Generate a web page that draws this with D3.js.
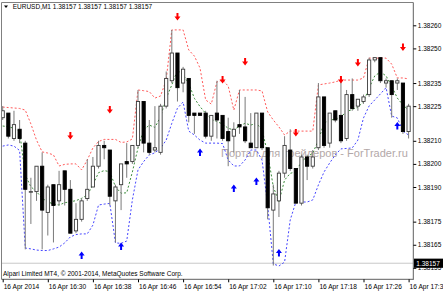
<!DOCTYPE html>
<html><head><meta charset="utf-8">
<script src="https://cdn.jsdelivr.net/npm/d3@7/dist/d3.min.js"></script>
<style>body{margin:0;background:#fff;}svg{display:block}</style>
</head><body>
<svg id="c" width="443" height="293"></svg>
<script>
const times = ["16:22","16:23","16:24","16:25","16:26","16:27","16:28","16:29","16:30","16:31","16:32","16:33","16:34","16:35","16:36","16:37","16:38","16:39","16:40","16:41","16:42","16:43","16:44","16:45","16:46","16:47","16:48","16:49","16:50","16:51","16:52","16:53","16:54","16:55","16:56","16:57","16:58","16:59","17:00","17:01","17:02","17:03","17:04","17:05","17:06","17:07","17:08","17:09","17:10","17:11","17:12","17:13","17:14","17:15","17:16","17:17","17:18","17:19","17:20","17:21","17:22","17:23","17:24","17:25","17:26","17:27","17:28","17:29","17:30","17:31","17:32","17:33","17:34"];
const opens = [1.38220,1.38222,1.38211,1.38215,1.38209,1.38188,1.38188,1.38199,1.38179,1.38191,1.38184,1.38197,1.38189,1.38171,1.38176,1.38185,1.38190,1.38199,1.38208,1.38206,1.38184,1.38191,1.38201,1.38201,1.38208,1.38227,1.38209,1.38206,1.38205,1.38225,1.38236,1.38248,1.38235,1.38237,1.38222,1.38222,1.38222,1.38212,1.38222,1.38221,1.38214,1.38212,1.38217,1.38216,1.38209,1.38207,1.38222,1.38207,1.38180,1.38184,1.38196,1.38206,1.38198,1.38183,1.38203,1.38199,1.38207,1.38229,1.38209,1.38223,1.38221,1.38211,1.38230,1.38225,1.38227,1.38230,1.38245,1.38246,1.38235,1.38236,1.38235,1.38235,1.38214];
const highs = [1.38225,1.38222,1.38223,1.38219,1.38210,1.38194,1.38199,1.38205,1.38191,1.38191,1.38197,1.38197,1.38193,1.38183,1.38185,1.38202,1.38203,1.38210,1.38210,1.38206,1.38191,1.38200,1.38209,1.38208,1.38232,1.38227,1.38219,1.38225,1.38226,1.38240,1.38258,1.38248,1.38242,1.38237,1.38222,1.38222,1.38223,1.38221,1.38236,1.38221,1.38220,1.38218,1.38232,1.38229,1.38222,1.38222,1.38222,1.38207,1.38191,1.38197,1.38212,1.38215,1.38198,1.38204,1.38204,1.38206,1.38235,1.38229,1.38222,1.38223,1.38236,1.38232,1.38237,1.38228,1.38230,1.38246,1.38246,1.38246,1.38237,1.38236,1.38237,1.38235,1.38226];
const lows = [1.38219,1.38211,1.38210,1.38209,1.38163,1.38174,1.38184,1.38163,1.38169,1.38166,1.38182,1.38182,1.38170,1.38170,1.38175,1.38184,1.38190,1.38198,1.38202,1.38182,1.38166,1.38180,1.38194,1.38200,1.38207,1.38205,1.38204,1.38205,1.38204,1.38224,1.38235,1.38227,1.38231,1.38218,1.38213,1.38221,1.38211,1.38210,1.38211,1.38210,1.38199,1.38205,1.38213,1.38209,1.38207,1.38207,1.38206,1.38176,1.38156,1.38177,1.38194,1.38197,1.38183,1.38182,1.38193,1.38198,1.38206,1.38207,1.38207,1.38218,1.38209,1.38210,1.38223,1.38223,1.38226,1.38229,1.38244,1.38235,1.38233,1.38220,1.38232,1.38213,1.38211];
const closes = [1.38223,1.38212,1.38217,1.38211,1.38189,1.38188,1.38199,1.38180,1.38190,1.38182,1.38191,1.38189,1.38170,1.38176,1.38184,1.38189,1.38199,1.38208,1.38207,1.38186,1.38190,1.38200,1.38200,1.38208,1.38227,1.38209,1.38205,1.38207,1.38225,1.38237,1.38248,1.38233,1.38241,1.38221,1.38221,1.38221,1.38212,1.38221,1.38219,1.38211,1.38210,1.38215,1.38216,1.38210,1.38207,1.38222,1.38207,1.38181,1.38187,1.38196,1.38208,1.38198,1.38183,1.38203,1.38199,1.38203,1.38229,1.38208,1.38222,1.38219,1.38210,1.38230,1.38224,1.38228,1.38229,1.38245,1.38246,1.38236,1.38236,1.38230,1.38236,1.38214,1.38225];
const upperBand = [1.382246,1.382244,1.382242,1.382240,1.382233,1.382173,1.382103,1.382052,1.382047,1.382039,1.381991,1.381998,1.382000,1.382000,1.381974,1.382017,1.382069,1.382097,1.382106,1.382106,1.382106,1.382093,1.382095,1.382108,1.382320,1.382317,1.382313,1.382285,1.382294,1.382363,1.382580,1.382580,1.382580,1.382493,1.382467,1.382415,1.382277,1.382259,1.382355,1.382363,1.382337,1.382233,1.382320,1.382320,1.382320,1.382320,1.382316,1.382225,1.382190,1.382160,1.382125,1.382142,1.382142,1.382142,1.382142,1.382142,1.382342,1.382346,1.382350,1.382355,1.382363,1.382363,1.382363,1.382363,1.382372,1.382458,1.382458,1.382458,1.382458,1.382432,1.382372,1.382372,1.382368];
const middleLine = [1.382164,1.382161,1.382154,1.382139,1.381952,1.381901,1.381880,1.381851,1.381836,1.381826,1.381822,1.381832,1.381836,1.381841,1.381851,1.381865,1.381909,1.381962,1.381971,1.381966,1.381901,1.381873,1.381875,1.381965,1.382069,1.382147,1.382168,1.382158,1.382204,1.382284,1.382342,1.382406,1.382385,1.382349,1.382284,1.382248,1.382219,1.382193,1.382183,1.382173,1.382154,1.382147,1.382164,1.382176,1.382168,1.382176,1.382147,1.382046,1.381901,1.381836,1.381930,1.381959,1.381966,1.382010,1.382031,1.382046,1.382103,1.382176,1.382190,1.382193,1.382204,1.382226,1.382236,1.382245,1.382269,1.382329,1.382381,1.382398,1.382381,1.382337,1.382285,1.382255,1.382233];
const lowerBand = [1.382077,1.382082,1.382077,1.382058,1.381636,1.381632,1.381627,1.381625,1.381625,1.381632,1.381640,1.381658,1.381684,1.381694,1.381697,1.381697,1.381735,1.381822,1.381826,1.381829,1.381658,1.381656,1.381666,1.381844,1.381974,1.382010,1.382039,1.382048,1.382068,1.382103,1.382176,1.382241,1.382268,1.382142,1.382125,1.382103,1.382090,1.382090,1.382090,1.382088,1.382017,1.381991,1.381991,1.382017,1.382060,1.382060,1.382017,1.381822,1.381567,1.381558,1.381575,1.381757,1.381835,1.381835,1.381835,1.381844,1.381909,1.381965,1.382004,1.382039,1.382065,1.382067,1.382069,1.382103,1.382199,1.382251,1.382277,1.382303,1.382330,1.382207,1.382199,1.382142,1.382125];
const sellArrowTimes = ["16:34","16:41","16:53","17:01","17:05","17:14","17:22","17:25","17:33"];
const sellArrowPrices = [1.382121,1.382233,1.382636,1.382363,1.382441,1.382134,1.382363,1.382437,1.382504];
const buyArrowTimes = ["16:36","16:43","16:57","17:03","17:07","17:11","17:32"];
const buyArrowPrices = [1.381606,1.381645,1.382052,1.381896,1.381926,1.381616,1.382166];
const priceTicks = [1.38260,1.38250,1.38235,1.38225,1.38210,1.38200,1.38190,1.38175,1.38165,1.38155];
const timeTicks = ["16:22","16:30","16:38","16:46","16:54","17:02","17:10","17:18","17:26","17:34"];
const timeTickLabels = ["16 Apr 2014","16 Apr 16:30","16 Apr 16:38","16 Apr 16:46","16 Apr 16:54","16 Apr 17:02","16 Apr 17:10","16 Apr 17:18","16 Apr 17:26","16 Apr 17:34"];
const bidPrice = 1.38157;
const title = "EURUSD,M1  1.38157 1.38157 1.38157 1.38157";
const copyright = "Alpari Limited MT4, \u00a9 2001-2014, MetaQuotes Software Corp.";
const watermark = "Портал для трейдеров - ForTrader.ru";

const FONT = "'Liberation Sans', Arial, sans-serif";
const svg = d3.select("#c");
const L = 1.5, R = 413.3, T = 2.5, B = 279.3;
const x = d3.scalePoint().domain(times).range([2.7, 408.6]);
const y = d3.scaleLinear().domain([1.38155, 1.38260]).range([267.85, 25.3]);

svg.append("defs").append("clipPath").attr("id","clip")
  .append("rect").attr("x",L).attr("y",T).attr("width",R-L).attr("height",B-T);

// watermark
svg.append("text").attr("x",221).attr("y",156.5).attr("fill","#b3a8a8")
  .style("font-family",FONT).style("font-size","11px").text(watermark);

const plot = svg.append("g").attr("clip-path","url(#clip)");

// bid line
plot.append("line").attr("x1",L).attr("x2",R).attr("y1",y(bidPrice)).attr("y2",y(bidPrice))
  .attr("stroke","#c8c8c8").attr("stroke-width",1);

// bands
const lineGen = arr => d3.line().x((d,i)=>x(times[i])).y(d=>y(d))(arr);
plot.append("path").attr("d",lineGen(upperBand)).attr("fill","none").attr("stroke","#ff5a5a").attr("stroke-width",1).attr("stroke-dasharray","2,2");
plot.append("path").attr("d",lineGen(lowerBand)).attr("fill","none").attr("stroke","#4646ff").attr("stroke-width",1).attr("stroke-dasharray","2,2");
plot.append("path").attr("d",lineGen(middleLine)).attr("fill","none").attr("stroke","#3c8c3c").attr("stroke-width",1).attr("stroke-dasharray","2,2");

// candles
const bw = 3.2;
const cg = plot.append("g");
times.forEach((t,i)=>{
  const cx = x(t), o = opens[i], c = closes[i];
  cg.append("line").attr("x1",cx).attr("x2",cx).attr("y1",y(highs[i])).attr("y2",y(lows[i]))
    .attr("stroke","#7a7a7a").attr("stroke-width",1);
  const top = y(Math.max(o,c)), bot = y(Math.min(o,c));
  cg.append("rect").attr("x",cx-bw/2).attr("y",top).attr("width",bw).attr("height",Math.max(bot-top,0.6))
    .attr("fill", c>=o ? "#fff" : "#000").attr("stroke", c>=o ? "#3a3a3a" : "#000").attr("stroke-width",0.9);
});

// arrows
const downPath = "M-1,-4H1V-0.5H3L0,3.5L-3,-0.5H-1Z";
const upPath = "M-1,4H1V0.5H3L0,-3.5L-3,0.5H-1Z";
sellArrowTimes.forEach((t,i)=>{
  plot.append("path").attr("d",downPath).attr("fill","#ff0000")
    .attr("transform",`translate(${x(t)},${y(sellArrowPrices[i])})`);
});
buyArrowTimes.forEach((t,i)=>{
  plot.append("path").attr("d",upPath).attr("fill","#0000ff")
    .attr("transform",`translate(${x(t)},${y(buyArrowPrices[i])})`);
});

// frame
svg.append("line").attr("x1",L).attr("x2",R).attr("y1",T).attr("y2",T).attr("stroke","#808080");
svg.append("line").attr("x1",L).attr("x2",L).attr("y1",T).attr("y2",B).attr("stroke","#808080");
svg.append("line").attr("x1",R).attr("x2",R).attr("y1",T).attr("y2",B+0.5).attr("stroke","#606060");
svg.append("line").attr("x1",L).attr("x2",R).attr("y1",B).attr("y2",B).attr("stroke","#606060");

// y axis
const ya = svg.append("g").attr("transform",`translate(${R},0)`)
  .call(d3.axisRight(y).tickValues(priceTicks).tickFormat(d3.format(".5f")).tickSize(3).tickPadding(1.5));
ya.select(".domain").remove();
ya.selectAll("line").attr("stroke","#000");
ya.selectAll("text").style("font-family",FONT).style("font-size","6.5px").attr("fill","#000");

// bid label
svg.append("rect").attr("x",R+0.7).attr("y",y(bidPrice)-4.6).attr("width",29).attr("height",9.2).attr("fill","#000");
svg.append("text").attr("x",R+3).attr("y",y(bidPrice)).attr("dy","0.35em").attr("fill","#fff")
  .style("font-family",FONT).style("font-size","6.5px").text(d3.format(".5f")(bidPrice));

// x axis
const xa = svg.append("g").attr("transform",`translate(0,${B})`)
  .call(d3.axisBottom(x).tickValues(timeTicks).tickFormat((d,i)=>timeTickLabels[i]).tickSize(3).tickPadding(2));
xa.select(".domain").remove();
xa.selectAll("line").attr("stroke","#000");
xa.selectAll("text").attr("text-anchor","start").attr("dx","0.5").style("font-family",FONT).style("font-size","6.6px").attr("fill","#000");

// title
svg.append("path").attr("d","M4,5.5H8L6,8Z").attr("fill","#000");
svg.append("text").attr("x",12.7).attr("y",9.3).style("font-family",FONT).style("font-size","6.5px").attr("fill","#000").text(title);

// copyright
svg.append("text").attr("x",3).attr("y",276.3).style("font-family",FONT).style("font-size","6.5px").attr("fill","#000").text(copyright);
</script>
</body></html>
